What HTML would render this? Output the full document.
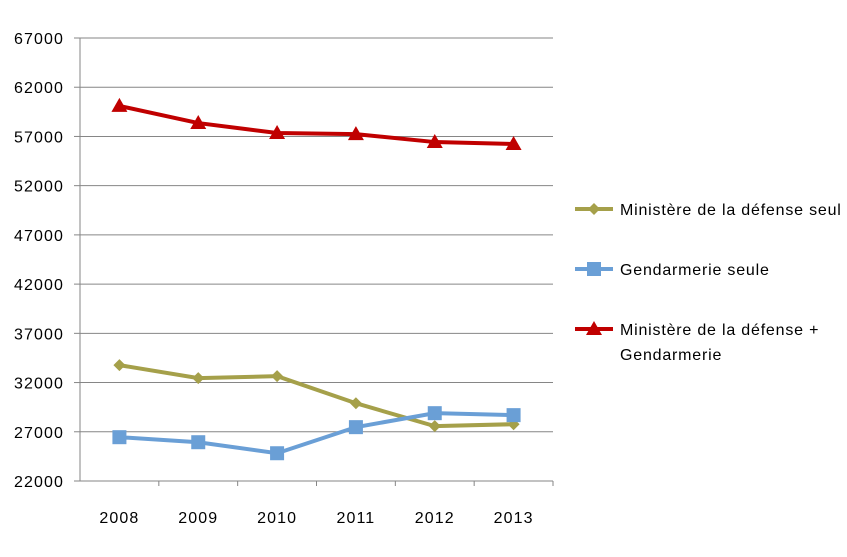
<!DOCTYPE html>
<html><head><meta charset="utf-8">
<style>
body{margin:0;background:#fff;}
svg text{font-family:"Liberation Sans",sans-serif;font-size:16px;letter-spacing:1.1px;fill:#000;}
svg #legend text{letter-spacing:0.8px;}
</style></head>
<body>
<svg id="chart" width="847" height="552" viewBox="0 0 847 552" xmlns="http://www.w3.org/2000/svg">
<g id="grid"></g><g id="axes"></g><g id="series"></g><g id="legend"></g>
</svg>
<script>
const categories=["2008","2009","2010","2011","2012","2013"];
const yTicks=[22000,27000,32000,37000,42000,47000,52000,57000,62000,67000];
const defenseSeul=[33770,32450,32650,29900,27570,27770];
const gendarmerie=[26450,25940,24820,27470,28890,28690];
const defensePlusGend=[60100,58360,57350,57240,56430,56230];
const NS="http://www.w3.org/2000/svg";
const x0=80,x1=553,yTop=38,yBot=481,yMin=22000,yMax=67000;
function xPos(i){return x0+(x1-x0)/categories.length*(i+0.5);}
function yPos(v){return yBot-(v-yMin)/(yMax-yMin)*(yBot-yTop);}
function mk(tag,attrs,parent){const e=document.createElementNS(NS,tag);for(const k in attrs)e.setAttribute(k,attrs[k]);parent.appendChild(e);return e;}
const grid=document.getElementById('grid'),axes=document.getElementById('axes'),ser=document.getElementById('series'),leg=document.getElementById('legend');
yTicks.forEach(v=>{
 const y=yPos(v);
 const l=mk('line',{x1:x0,x2:x1,y1:y,y2:y,stroke:'#868686','stroke-width':1},grid);
 
 
 const tk=mk('line',{x1:x0-6,x2:x0,y1:y,y2:y,stroke:'#868686'},axes);
 
 
 const t=mk('text',{x:x0-16,y:y+6,'text-anchor':'end'},axes);t.textContent=v;
 
 
});
const ya=mk('line',{x1:x0,x2:x0,y1:yTop,y2:yBot,stroke:'#868686'},axes);


categories.forEach((c,i)=>{
 const t=mk('text',{x:xPos(i),y:523,'text-anchor':'middle'},axes);t.textContent=c;
 
 
 const tk=mk('line',{x1:x0+(x1-x0)/categories.length*(i+1),x2:x0+(x1-x0)/categories.length*(i+1),y1:yBot,y2:yBot+5,stroke:'#868686'},axes);
 
 
});
function marker(type,x,y,color,parent){
 let e;
 if(type==='diamond')e=mk('polygon',{points:`${x},${y-6} ${x+6},${y} ${x},${y+6} ${x-6},${y}`,fill:color},parent);
 else if(type==='square')e=mk('rect',{x:x-7,y:y-7,width:14,height:14,fill:color},parent);
 else e=mk('polygon',{points:`${x},${y-8} ${x+8},${y+6} ${x-8},${y+6}`,fill:color},parent);
 return e;
}
const series=[
 {name:'defense-seul',data:defenseSeul,color:'#A5A04A',m:'diamond',label:['Ministère de la défense seul'],ly:209},
 {name:'gendarmerie-seule',data:gendarmerie,color:'#6A9FD6',m:'square',label:['Gendarmerie seule'],ly:269},
 {name:'defense-plus-gendarmerie',data:defensePlusGend,color:'#C00000',m:'triangle',label:['Ministère de la défense +','Gendarmerie'],ly:329}
];
series.forEach(s=>{
 const g=mk('g',{},ser);
 
 
 const p=mk('polyline',{points:s.data.map((v,i)=>xPos(i)+','+yPos(v)).join(' '),fill:'none',stroke:s.color,'stroke-width':4},g);
 
 
 s.data.forEach((v,i)=>{
  const m=marker(s.m,xPos(i),yPos(v),s.color,g);
  
  
 });
 const lg=mk('g',{},leg);
 
 
 mk('line',{x1:575,x2:613,y1:s.ly,y2:s.ly,stroke:s.color,'stroke-width':4},lg);
 marker(s.m,594,s.ly,s.color,lg);
 s.label.forEach((t,k)=>{const tx=mk('text',{x:620,y:s.ly+6+k*25},lg);tx.textContent=t;});
});
</script>
</body></html>
